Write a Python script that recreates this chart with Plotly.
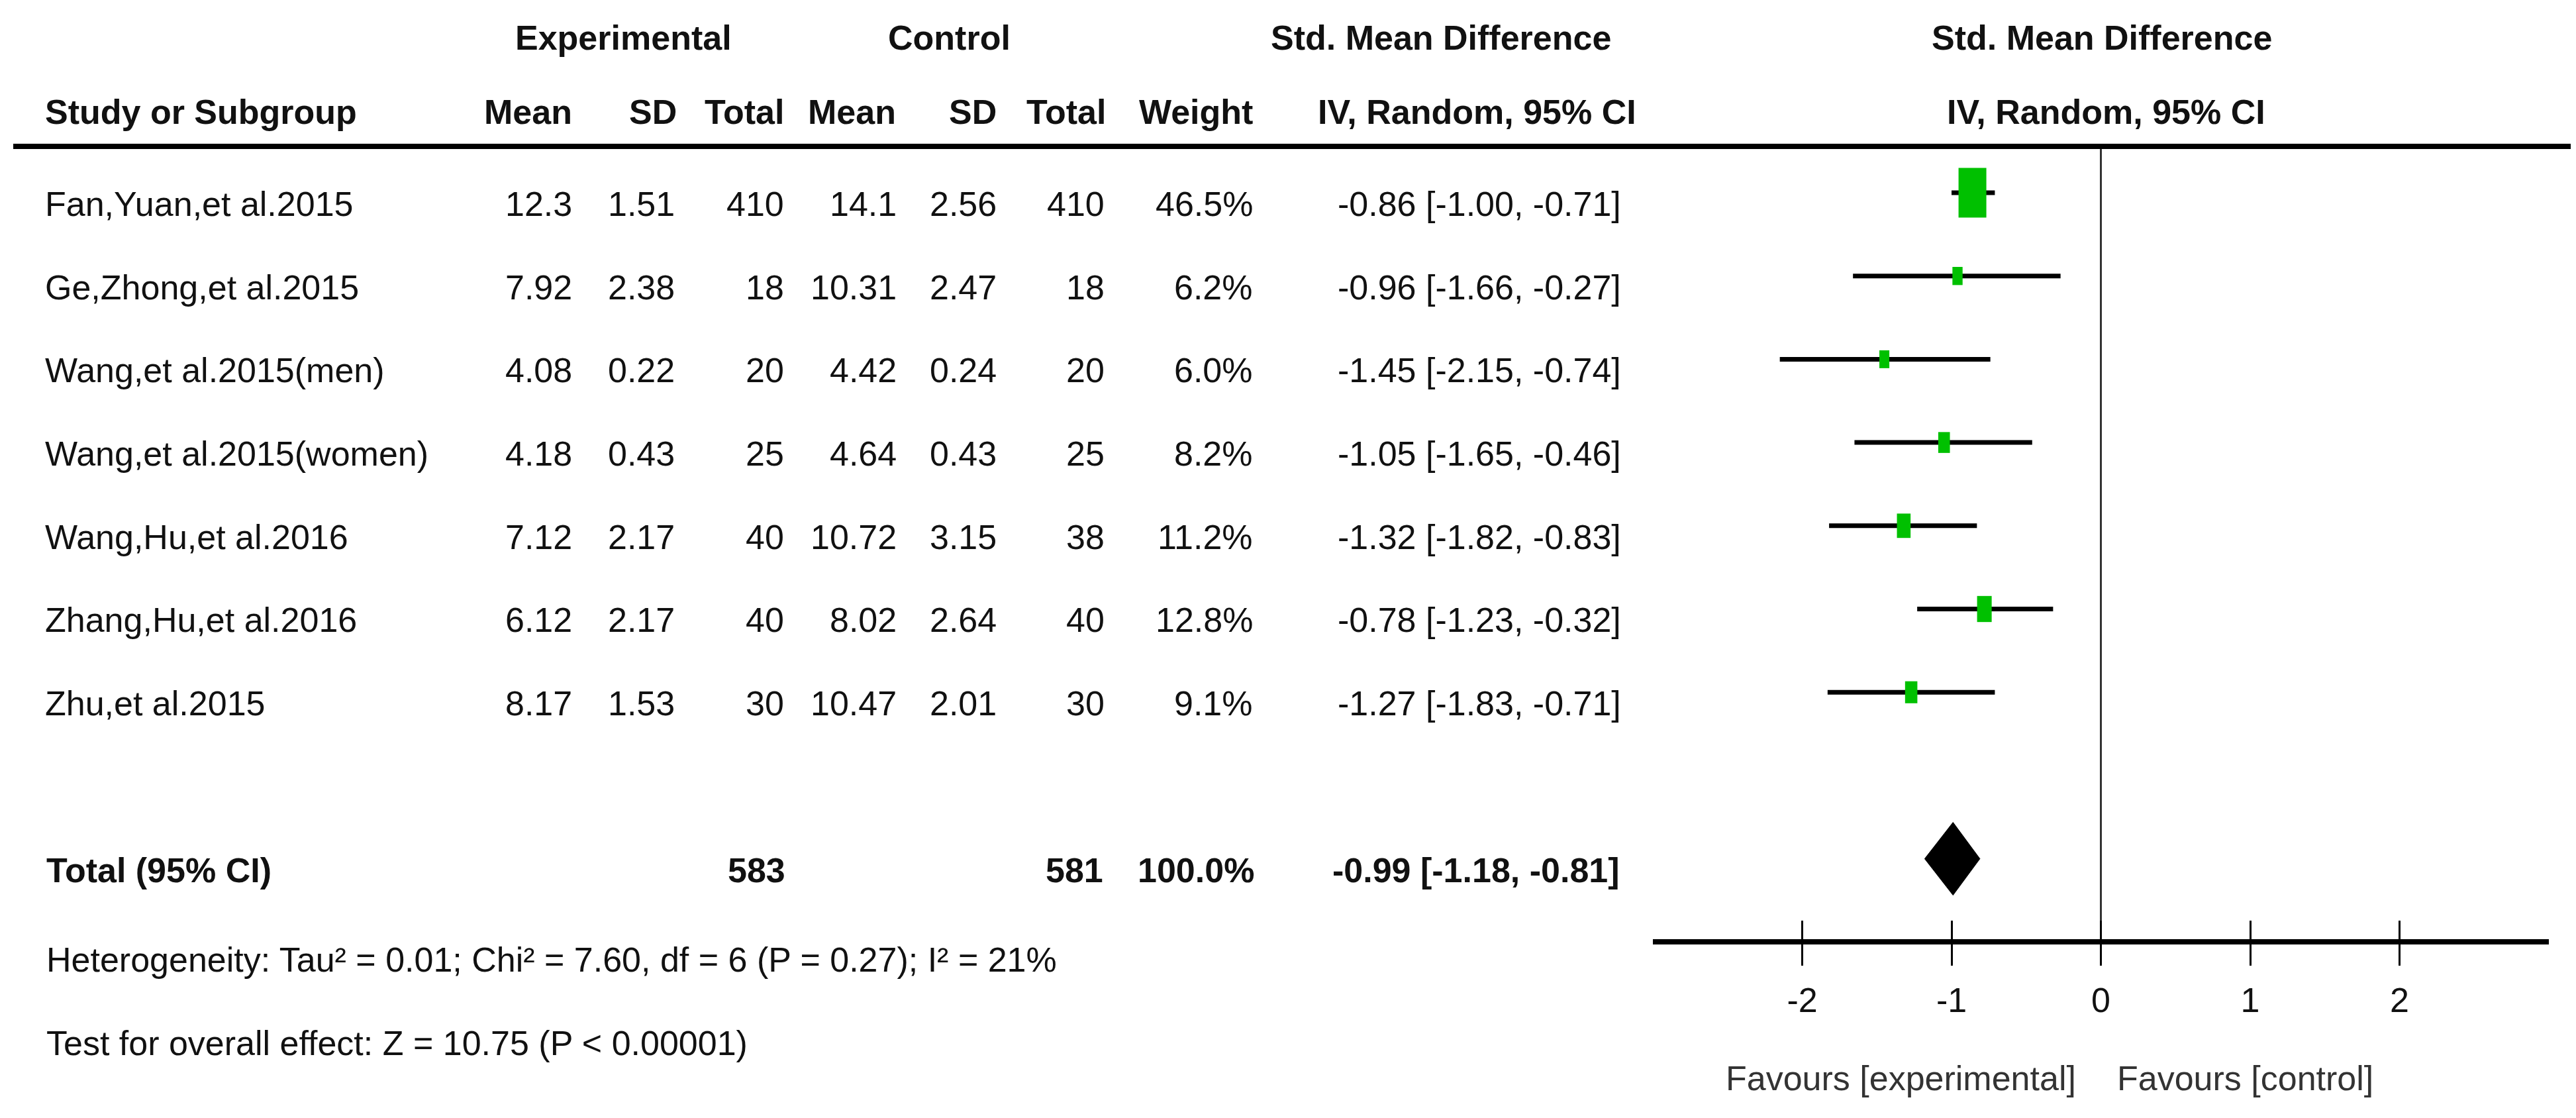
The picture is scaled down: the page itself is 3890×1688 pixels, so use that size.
import math
import plotly.graph_objects as go

# ---------------- data ----------------
studies = ["Fan,Yuan,et al.2015", "Ge,Zhong,et al.2015", "Wang,et al.2015(men)",
           "Wang,et al.2015(women)", "Wang,Hu,et al.2016", "Zhang,Hu,et al.2016",
           "Zhu,et al.2015"]
exp_mean = [12.3, 7.92, 4.08, 4.18, 7.12, 6.12, 8.17]
exp_sd = [1.51, 2.38, 0.22, 0.43, 2.17, 2.17, 1.53]
exp_n = [410, 18, 20, 25, 40, 40, 30]
ctl_mean = [14.1, 10.31, 4.42, 4.64, 10.72, 8.02, 10.47]
ctl_sd = [2.56, 2.47, 0.24, 0.43, 3.15, 2.64, 2.01]
ctl_n = [410, 18, 20, 25, 38, 40, 30]
weight = [46.5, 6.2, 6.0, 8.2, 11.2, 12.8, 9.1]
smd = [-0.86, -0.96, -1.45, -1.05, -1.32, -0.78, -1.27]
ci_lo = [-1.00, -1.66, -2.15, -1.65, -1.82, -1.23, -1.83]
ci_hi = [-0.71, -0.27, -0.74, -0.46, -0.83, -0.32, -0.71]

total_weight = 100.0
total_smd = -0.99
total_lo = -1.18
total_hi = -0.81

heterogeneity_text = "Heterogeneity: Tau² = 0.01; Chi² = 7.60, df = 6 (P = 0.27); I² = 21%"
overall_text = "Test for overall effect: Z = 10.75 (P < 0.00001)"

tick_vals = [-2, -1, 0, 1, 2]
tick_text = ["-2", "-1", "0", "1", "2"]
favours_left = "Favours [experimental]"
favours_right = "Favours [control]"

# ---------------- layout constants ----------------
W, H = 3890, 1688
FONT = "Liberation Sans, Arial, sans-serif"
FS = 52
TXT = "#111111"
ROW_PX = 125.7          # pixel height of one row
ROW0_PX = 283           # pixel y of first study row
X_LEFT_PX, X_RIGHT_PX = 2488, 3841
UNIT_PX = (X_RIGHT_PX - X_LEFT_PX) / 6.0
TOTAL_ROW = 8
AXIS_PX = 1414
TEXT_DY = 0.135


def row_of(px):
    return (px - ROW0_PX) / ROW_PX


Y_TOP = row_of(0)
Y_BOT = row_of(H)
LINE_ROW = row_of(213)

fig = go.Figure()

# CI whiskers
cx, cy = [], []
for i in range(len(studies)):
    cx += [ci_lo[i], ci_hi[i], None]
    cy += [i, i, None]
fig.add_trace(go.Scatter(x=cx, y=cy, mode="lines",
                         line=dict(color="black", width=7),
                         hoverinfo="skip", showlegend=False))

# pooled diamond (drawn on overlaying axis x2, which also carries upward ticks)
dh = 55 / ROW_PX
fig.add_trace(go.Scatter(
    x=[total_lo, total_smd, total_hi, total_smd, total_lo],
    y=[TOTAL_ROW, TOTAL_ROW - dh, TOTAL_ROW, TOTAL_ROW + dh, TOTAL_ROW],
    mode="lines", fill="toself", fillcolor="black",
    line=dict(color="black", width=1), xaxis="x2", yaxis="y",
    hoverinfo="skip", showlegend=False))

shapes = []
# weight boxes
for i in range(len(studies)):
    s = math.sqrt(weight[i] / weight[0])
    hw = 21 * s / UNIT_PX
    hh = 37.5 * s / ROW_PX
    shapes.append(dict(type="rect", xref="x", yref="y",
                       x0=smd[i] - hw, x1=smd[i] + hw, y0=i - hh, y1=i + hh,
                       fillcolor="#00C000", line=dict(width=0), layer="above"))
# top header rule
shapes.append(dict(type="line", xref="paper", yref="y", x0=12 / W, x1=3880 / W,
                   y0=LINE_ROW, y1=LINE_ROW, line=dict(color="black", width=8)))
# line of no effect
shapes.append(dict(type="line", xref="x", yref="y", x0=0, x1=0,
                   y0=LINE_ROW, y1=row_of(AXIS_PX), line=dict(color="#333333", width=3),
                   layer="below"))

annotations = []


def ann(text, xpx, yrow, anchor, bold=False, color=TXT):
    if bold:
        text = "<b>" + text + "</b>"
    annotations.append(dict(text=text, x=xpx / W, xref="paper", y=yrow, yref="y",
                            xanchor=anchor, yanchor="middle", showarrow=False,
                            font=dict(family=FONT, size=FS, color=color)))


# headers
H1 = row_of(49)
H2 = row_of(161)
ann("Experimental", 933, H1, "center", True)
ann("Control", 1425, H1, "center", True)
ann("Std. Mean Difference", 2168, H1, "center", True)
ann("Std. Mean Difference", 3166, H1, "center", True)
ann("Study or Subgroup", 58, H2, "left", True)
ann("Mean", 858, H2, "right", True)
ann("SD", 1016, H2, "right", True)
ann("Total", 1178, H2, "right", True)
ann("Mean", 1347, H2, "right", True)
ann("SD", 1499, H2, "right", True)
ann("Total", 1664, H2, "right", True)
ann("Weight", 1886, H2, "right", True)
ann("IV, Random, 95% CI", 2222, H2, "center", True)
ann("IV, Random, 95% CI", 3172, H2, "center", True)

# study rows
for i, name in enumerate(studies):
    y = i + TEXT_DY
    ann(name, 58, y, "left")
    ann(f"{exp_mean[i]:g}", 858, y, "right")
    ann(f"{exp_sd[i]:g}", 1013, y, "right")
    ann(f"{exp_n[i]}", 1178, y, "right")
    ann(f"{ctl_mean[i]:g}", 1348, y, "right")
    ann(f"{ctl_sd[i]:g}", 1499, y, "right")
    ann(f"{ctl_n[i]}", 1662, y, "right")
    ann(f"{weight[i]:.1f}%", 1886, y, "right")
    ann(f"{smd[i]:.2f} [{ci_lo[i]:.2f}, {ci_hi[i]:.2f}]", 2442, y, "right")

# total row
yt = TOTAL_ROW + TEXT_DY
ann("Total (95% CI)", 60, yt, "left", True)
ann(f"{sum(exp_n)}", 1180, yt, "right", True)
ann(f"{sum(ctl_n)}", 1660, yt, "right", True)
ann(f"{total_weight:.1f}%", 1888, yt, "right", True)
ann(f"{total_smd:.2f} [{total_lo:.2f}, {total_hi:.2f}]", 2440, yt, "right", True)

ann(heterogeneity_text, 60, row_of(1441), "left")
ann(overall_text, 60, row_of(1567), "left")

# favours labels
for txt, anchor, shift in [(favours_left, "right", -36), (favours_right, "left", 22)]:
    annotations.append(dict(text=txt, x=0, xref="x", y=row_of(1620), yref="y",
                            xanchor=anchor, xshift=shift, yanchor="middle",
                            showarrow=False,
                            font=dict(family=FONT, size=FS, color="#333333")))

axis_pos = 1 - AXIS_PX / H
dom = [X_LEFT_PX / W, X_RIGHT_PX / W]

fig.update_layout(
    width=W, height=H,
    margin=dict(l=0, r=0, t=0, b=0),
    paper_bgcolor="white", plot_bgcolor="white",
    showlegend=False,
    shapes=shapes, annotations=annotations,
    xaxis=dict(domain=dom, range=[-3, 3], anchor="free", position=axis_pos,
               showline=True, linecolor="black", linewidth=8,
               ticks="outside", ticklen=32, tickwidth=3, tickcolor="black",
               tickmode="array", tickvals=tick_vals, ticktext=tick_text,
               tickfont=dict(family=FONT, size=FS, color=TXT),
               ticklabelstandoff=8,
               showgrid=False, zeroline=False, fixedrange=True),
    xaxis2=dict(domain=dom, range=[-3, 3], anchor="free", position=axis_pos,
                overlaying="x", showline=False,
                ticks="inside", ticklen=32, tickwidth=3, tickcolor="black",
                tickmode="array", tickvals=tick_vals, showticklabels=False,
                showgrid=False, zeroline=False, fixedrange=True),
    yaxis=dict(domain=[0, 1], range=[Y_BOT, Y_TOP], visible=False,
               showgrid=False, zeroline=False, fixedrange=True),
)

fig.write_html("out.html")
